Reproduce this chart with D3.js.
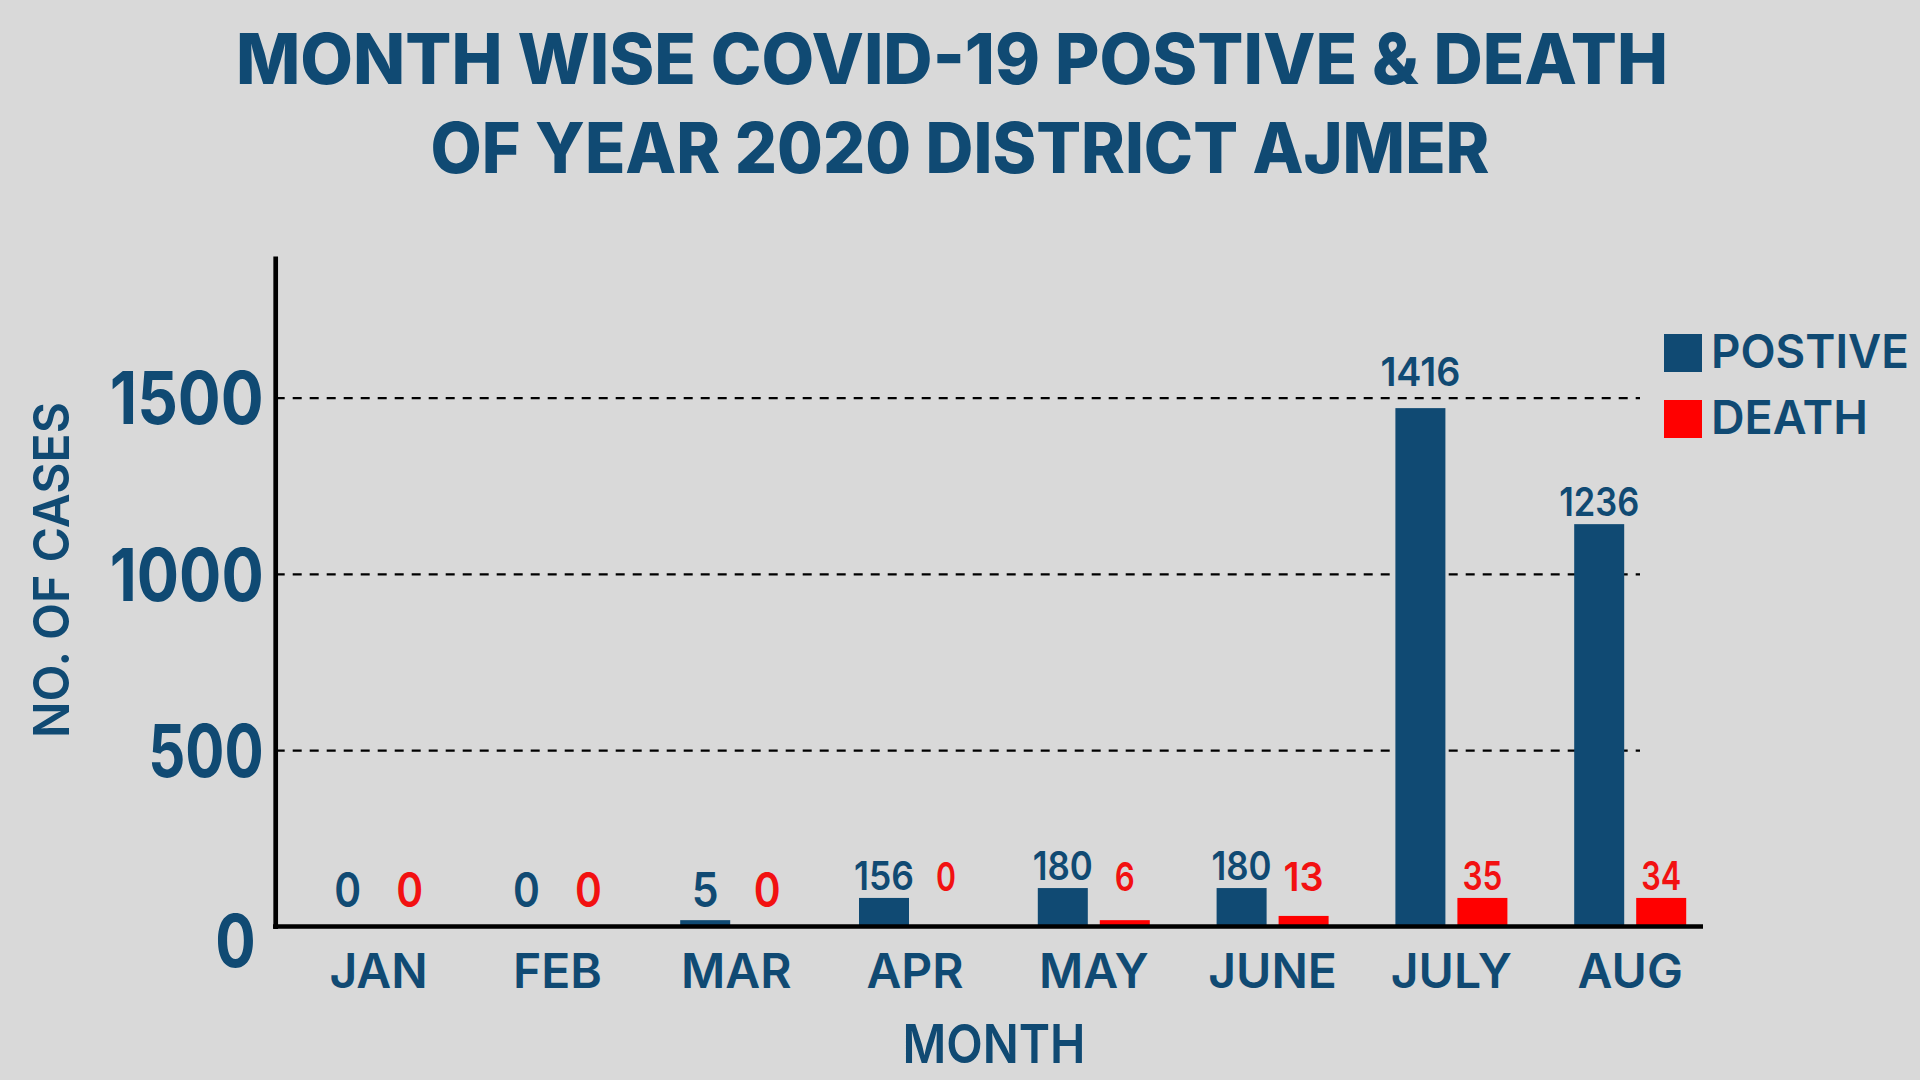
<!DOCTYPE html>
<html><head><meta charset="utf-8">
<script src="https://cdn.jsdelivr.net/npm/d3@7"></script>
<style>
html,body{margin:0;padding:0;background:#d9d9d9;}
svg{display:block;font-family:Inter,"Open Sans",sans-serif;}
</style>
</head><body>
<svg id="chart" width="1920" height="1080"></svg>
<script>
// ---- data ----
const months = ["JAN","FEB","MAR","APR","MAY","JUNE","JULY","AUG"];
const seriesNames = ["POSTIVE","DEATH"];
// printed value labels
const positiveLabels = [0,0,5,156,180,180,1416,1236];
const deathLabels = [0,0,0,0,6,13,35,34];
// bar heights as drawn against the y axis
const positiveBars = [0,0,18,81,109,109,1470,1141];
const deathBars = [0,0,0,0,18,30,81,81];
const yTicks = [0,500,1000,1500];
const titleLines = ["MONTH WISE COVID-19 POSTIVE & DEATH","OF YEAR 2020 DISTRICT AJMER"];
const xTitle = "MONTH";
const yTitle = "NO. OF CASES";

// ---- styles ----
const NAVY = "#104a73", RED = "#ff0000", BG = "#d9d9d9";
const colors = {POSTIVE: NAVY, DEATH: RED};
const textColors = {POSTIVE: NAVY, DEATH: "#f21111"};

const svg = d3.select("#chart");
svg.append("rect").attr("width",1920).attr("height",1080).attr("fill",BG);

// ---- scales ----
const x0 = d3.scaleBand().domain(months).range([289.2, 1719.6]).padding(0);
const bw = x0.bandwidth();
const x1 = d3.scaleBand().domain(seriesNames).range([bw/2-56, bw/2+56]).paddingInner(12/62).paddingOuter(0);
const y = d3.scaleLinear().domain([0,1900]).range([926.5, 256.5]);

const axisX = 275.7, plotRight = 1640, baseRight = 1703;

// ---- title ----
const titleWidths = [1432, 1059];
const titleCenters = [952, 960];
const titleBase = [84, 173];
svg.selectAll("text.title").data(titleLines).join("text")
  .attr("class","title")
  .attr("x",(d,i)=>titleCenters[i]).attr("y",(d,i)=>titleBase[i])
  .attr("text-anchor","middle")
  .attr("font-size",70).attr("font-weight",800).attr("fill",NAVY)
  .attr("textLength",(d,i)=>titleWidths[i]).attr("lengthAdjust","spacingAndGlyphs")
  .text(d=>d);

// ---- gridlines ----
const gridVals = yTicks.filter(v=>v>0);
const grid = svg.append("g").attr("transform",`translate(${axisX},0)`)
  .call(d3.axisLeft(y).tickValues(gridVals).tickSize(-(plotRight-axisX)).tickFormat(""));
grid.select(".domain").remove();
grid.selectAll(".tick line").attr("stroke","#000").attr("stroke-width",2.2).attr("stroke-dasharray","9,8");

// ---- y tick labels ----
const yAxis = svg.append("g").attr("transform",`translate(${axisX},0)`)
  .call(d3.axisLeft(y).tickValues(yTicks).tickFormat(d3.format("d")).tickSize(0).tickPadding(12));
yAxis.select(".domain").remove();
yAxis.selectAll(".tick text")
  .attr("font-family","Inter,sans-serif").attr("font-size",73).attr("font-weight",700)
  .attr("fill",NAVY)
  .attr("dy",d=> d===0 ? "0.55em" : "0.36em")
  .attr("x",d=> d===0 ? -20 : -12)
  .attr("textLength",d=> String(d).length*38.5 + (d===0?2:0))
  .attr("lengthAdjust","spacingAndGlyphs");

// ---- bars ----
const rows = months.map((m,i)=>({month:m,i,
  vals:[{s:"POSTIVE",bar:positiveBars[i],label:positiveLabels[i]},
        {s:"DEATH",bar:deathBars[i],label:deathLabels[i]}]}));
const groups = svg.selectAll("g.month").data(rows).join("g")
  .attr("class","month").attr("transform",d=>`translate(${x0(d.month)},0)`);
groups.selectAll("rect").data(d=>d.vals).join("rect")
  .attr("x",d=>x1(d.s)).attr("width",x1.bandwidth())
  .attr("y",d=>y(d.bar)).attr("height",d=>y(0)-y(d.bar))
  .attr("fill",d=>colors[d.s]);

// ---- value labels ----
const bigMonths = 3;
groups.each(function(row){
  const big = row.i < bigMonths;
  const fs = big ? 48 : 40;
  const capH = fs*0.73;
  d3.select(this).selectAll("text.val").data(row.vals).join("text")
    .attr("class","val")
    .attr("x",d=>x1(d.s)+x1.bandwidth()/2)
    .attr("y",d=>{
      let top = y(d.bar) - 8;
      if (big) top = Math.min(top, 907);
      else if (d.s==="DEATH") top = Math.min(top, 891);
      // keep the label clear of a dashed gridline
      gridVals.forEach(g=>{
        const gy = y(g);
        if (gy > top - capH - 4 && gy < top + 4) top = gy - 12;
      });
      return top;
    })
    .attr("text-anchor","middle")
    .attr("font-size",fs).attr("font-weight",600)
    .attr("fill",d=>textColors[d.s])
    .attr("textLength",d=>String(d.label).length*fs*(big?0.56:0.5))
    .attr("lengthAdjust","spacingAndGlyphs")
    .text(d=>d.label);
});

// ---- axes lines ----
svg.append("line").attr("x1",axisX).attr("x2",axisX).attr("y1",y.range()[1]).attr("y2",929)
  .attr("stroke","#000").attr("stroke-width",4.7);
svg.append("line").attr("x1",273).attr("x2",baseRight).attr("y1",y(0)).attr("y2",y(0))
  .attr("stroke","#000").attr("stroke-width",4.7);

// ---- x tick labels ----
const xAxis = svg.append("g").attr("transform",`translate(0,${y(0)})`)
  .call(d3.axisBottom(x0).tickSize(0).tickPadding(0));
xAxis.select(".domain").remove();
xAxis.selectAll(".tick text")
  .attr("font-family","Inter,sans-serif").attr("font-size",48).attr("font-weight",600)
  .attr("fill",NAVY).attr("y",61.5).attr("dy",0);

// ---- axis titles ----
svg.append("text").attr("x",994).attr("y",1063).attr("text-anchor","middle")
  .attr("font-size",54).attr("font-weight",600).attr("fill",NAVY)
  .attr("textLength",183).attr("lengthAdjust","spacingAndGlyphs").text(xTitle);
svg.append("text").attr("transform","translate(69,570) rotate(-90)").attr("text-anchor","middle")
  .attr("font-size",50).attr("font-weight",600).attr("fill",NAVY)
  .attr("textLength",336).attr("lengthAdjust","spacingAndGlyphs").text(yTitle);

// ---- legend ----
const legendY = [334, 400];
const legendW = [198, 157];
const lg = svg.selectAll("g.legend").data(seriesNames).join("g")
  .attr("class","legend").attr("transform",(d,i)=>`translate(1664,${legendY[i]})`);
lg.append("rect").attr("width",38).attr("height",38).attr("fill",d=>colors[d]);
lg.append("text").attr("x",47).attr("y",34)
  .attr("font-size",47).attr("font-weight",600).attr("fill",NAVY)
  .attr("textLength",(d,i)=>legendW[i]).attr("lengthAdjust","spacingAndGlyphs")
  .text(d=>d);
</script>
</body></html>
